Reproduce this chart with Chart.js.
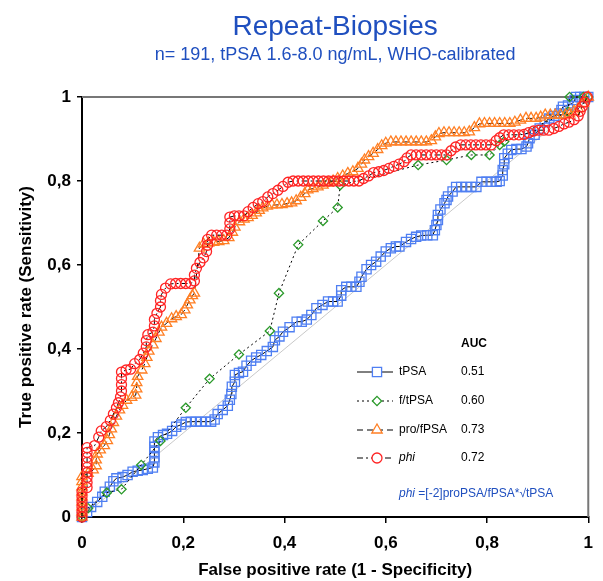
<!DOCTYPE html>
<html>
<head>
<meta charset="utf-8">
<title>Repeat-Biopsies</title>
<script src="https://cdn.jsdelivr.net/npm/chart.js@4.4.0/dist/chart.umd.min.js"></script>
<style>
  body { margin: 0; background: #fff; }
  #wrap { width: 603px; height: 581px; }
</style>
</head>
<body>
<div id="wrap"><canvas id="rocChart" width="603" height="581"></canvas></div>
<script>
// ROC points: [1 - specificity, sensitivity]
const tpsaRoc = [
  [0,0],[0.01,0.012],[0.018,0.024],[0.03,0.036],[0.04,0.048],[0.045,0.06],[0.055,0.072],[0.062,0.085],
  [0.068,0.092],[0.08,0.095],[0.09,0.1],[0.1,0.108],[0.11,0.11],[0.12,0.112],[0.13,0.115],[0.14,0.118],
  [0.143,0.13],[0.143,0.142],[0.143,0.155],[0.143,0.167],[0.143,0.18],[0.15,0.19],[0.16,0.195],[0.168,0.198],
  [0.178,0.205],[0.186,0.215],[0.196,0.22],[0.205,0.226],[0.215,0.227],[0.225,0.227],[0.235,0.227],[0.245,0.227],
  [0.255,0.227],[0.262,0.232],[0.268,0.245],[0.278,0.255],[0.288,0.265],[0.292,0.279],[0.295,0.293],[0.296,0.31],
  [0.302,0.322],[0.302,0.338],[0.31,0.343],[0.318,0.346],[0.325,0.36],[0.334,0.372],[0.344,0.38],[0.354,0.386],
  [0.365,0.395],[0.377,0.405],[0.381,0.421],[0.39,0.43],[0.397,0.441],[0.41,0.452],[0.424,0.465],[0.434,0.465],
  [0.444,0.47],[0.453,0.481],[0.463,0.497],[0.475,0.505],[0.486,0.513],[0.496,0.513],[0.505,0.513],[0.512,0.527],
  [0.512,0.54],[0.522,0.548],[0.532,0.548],[0.542,0.548],[0.548,0.56],[0.552,0.572],[0.562,0.59],[0.571,0.6],
  [0.581,0.608],[0.59,0.62],[0.6,0.632],[0.61,0.64],[0.62,0.644],[0.627,0.644],[0.64,0.655],[0.65,0.662],
  [0.66,0.667],[0.67,0.67],[0.682,0.671],[0.693,0.671],[0.697,0.683],[0.7,0.695],[0.703,0.707],[0.703,0.719],
  [0.708,0.732],[0.716,0.747],[0.72,0.755],[0.723,0.763],[0.732,0.775],[0.739,0.786],[0.749,0.786],[0.759,0.786],
  [0.769,0.786],[0.779,0.786],[0.789,0.798],[0.799,0.798],[0.809,0.798],[0.819,0.798],[0.825,0.8],[0.831,0.813],
  [0.831,0.826],[0.834,0.84],[0.834,0.854],[0.841,0.865],[0.848,0.874],[0.858,0.876],[0.868,0.876],[0.878,0.882],
  [0.881,0.89],[0.884,0.902],[0.894,0.91],[0.904,0.925],[0.914,0.94],[0.923,0.949],[0.933,0.955],[0.943,0.961],
  [0.947,0.969],[0.95,0.977],[0.96,0.98],[0.969,0.985],[0.973,0.993],[0.976,1],[0.984,1],[0.992,1],[1,1]
];
const ftRoc = [
  [0,0],[0.012,0.021],[0.049,0.058],[0.078,0.066],[0.117,0.124],[0.155,0.181],[0.205,0.26],[0.252,0.329],
  [0.31,0.387],[0.371,0.443],[0.389,0.533],[0.427,0.648],[0.476,0.705],[0.505,0.737],[0.51,0.79],[0.664,0.838],
  [0.72,0.85],[0.769,0.862],[0.805,0.862],[0.825,0.886],[0.834,0.894],[0.96,0.965],[0.963,1],[0.99,1],[1,1]
];
const proRoc = [
  [0,0],[0,0.012],[0,0.024],[0,0.036],[0,0.048],[0,0.06],[0,0.072],[0,0.084],[0,0.096],
  [0.012,0.104],[0.022,0.112],[0.028,0.122],[0.028,0.136],[0.03,0.15],[0.036,0.16],[0.044,0.17],[0.05,0.182],
  [0.054,0.196],[0.058,0.21],[0.062,0.225],[0.068,0.24],[0.074,0.255],[0.08,0.266],[0.088,0.278],[0.098,0.285],
  [0.106,0.29],[0.108,0.305],[0.108,0.32],[0.11,0.335],[0.118,0.35],[0.124,0.365],[0.128,0.38],[0.132,0.395],
  [0.14,0.41],[0.146,0.425],[0.152,0.44],[0.157,0.452],[0.167,0.461],[0.177,0.472],[0.186,0.477],[0.196,0.482],
  [0.203,0.493],[0.208,0.505],[0.213,0.517],[0.218,0.527],[0.222,0.533],[0.232,0.64],[0.24,0.65],[0.25,0.652],
  [0.26,0.654],[0.27,0.656],[0.28,0.658],[0.29,0.665],[0.297,0.678],[0.302,0.69],[0.311,0.703],[0.32,0.709],
  [0.328,0.713],[0.336,0.718],[0.344,0.724],[0.35,0.73],[0.357,0.736],[0.366,0.74],[0.375,0.743],[0.385,0.743],
  [0.395,0.744],[0.405,0.746],[0.414,0.748],[0.423,0.753],[0.432,0.761],[0.44,0.77],[0.446,0.779],[0.456,0.782],
  [0.466,0.786],[0.476,0.79],[0.486,0.795],[0.496,0.8],[0.505,0.806],[0.515,0.812],[0.525,0.818],[0.535,0.822],
  [0.545,0.83],[0.552,0.84],[0.558,0.85],[0.566,0.858],[0.575,0.866],[0.584,0.875],[0.592,0.884],[0.6,0.89],
  [0.61,0.893],[0.62,0.893],[0.63,0.893],[0.64,0.893],[0.65,0.893],[0.66,0.893],[0.67,0.893],[0.68,0.893],
  [0.69,0.896],[0.698,0.905],[0.705,0.913],[0.715,0.915],[0.725,0.915],[0.735,0.915],[0.745,0.915],[0.755,0.915],
  [0.765,0.917],[0.775,0.927],[0.785,0.936],[0.795,0.937],[0.805,0.937],[0.815,0.937],[0.825,0.937],[0.835,0.937],
  [0.845,0.937],[0.855,0.94],[0.866,0.945],[0.877,0.949],[0.887,0.949],[0.897,0.949],[0.906,0.952],[0.915,0.957],
  [0.925,0.957],[0.935,0.957],[0.945,0.957],[0.955,0.957],[0.963,0.96],[0.972,0.966],[0.98,0.972],[0.99,0.985],[1,1]
];
const phiRoc = [
  [0,0],[0,0.012],[0,0.024],[0,0.036],[0,0.048],[0,0.06],
  [0.01,0.07],[0.01,0.082],[0.01,0.094],[0.01,0.106],[0.01,0.118],[0.01,0.13],[0.01,0.142],[0.01,0.154],[0.01,0.165],
  [0.025,0.17],[0.033,0.19],[0.038,0.205],[0.048,0.215],[0.056,0.23],[0.062,0.245],[0.068,0.26],[0.072,0.272],
  [0.076,0.286],[0.078,0.3],[0.078,0.315],[0.078,0.33],[0.078,0.345],[0.087,0.35],[0.096,0.352],[0.104,0.365],
  [0.114,0.375],[0.121,0.39],[0.127,0.405],[0.127,0.42],[0.13,0.434],[0.14,0.44],[0.143,0.455],[0.143,0.47],
  [0.148,0.485],[0.155,0.5],[0.155,0.515],[0.157,0.53],[0.165,0.545],[0.175,0.555],[0.185,0.556],[0.195,0.556],
  [0.205,0.556],[0.215,0.556],[0.222,0.562],[0.222,0.576],[0.226,0.592],[0.233,0.606],[0.24,0.617],[0.246,0.632],
  [0.248,0.647],[0.248,0.661],[0.256,0.671],[0.266,0.671],[0.276,0.671],[0.286,0.671],[0.292,0.686],[0.292,0.7],
  [0.292,0.714],[0.301,0.717],[0.31,0.717],[0.32,0.717],[0.328,0.727],[0.338,0.737],[0.348,0.746],[0.357,0.751],
  [0.367,0.762],[0.377,0.77],[0.387,0.778],[0.397,0.787],[0.407,0.797],[0.417,0.8],[0.427,0.8],[0.437,0.8],
  [0.447,0.8],[0.457,0.8],[0.467,0.8],[0.477,0.8],[0.487,0.8],[0.497,0.8],[0.507,0.8],[0.517,0.8],
  [0.527,0.8],[0.537,0.8],[0.547,0.8],[0.556,0.806],[0.566,0.812],[0.576,0.82],[0.586,0.822],[0.596,0.825],
  [0.606,0.83],[0.616,0.835],[0.626,0.84],[0.636,0.846],[0.642,0.855],[0.65,0.862],[0.66,0.862],[0.67,0.862],
  [0.68,0.862],[0.69,0.862],[0.7,0.862],[0.71,0.862],[0.72,0.862],[0.729,0.872],[0.738,0.881],[0.748,0.886],
  [0.758,0.886],[0.768,0.886],[0.778,0.886],[0.788,0.886],[0.798,0.886],[0.808,0.886],[0.818,0.896],[0.825,0.903],
  [0.833,0.91],[0.843,0.91],[0.853,0.91],[0.863,0.91],[0.873,0.911],[0.882,0.915],[0.892,0.919],[0.902,0.921],
  [0.912,0.921],[0.922,0.921],[0.932,0.925],[0.942,0.93],[0.952,0.936],[0.962,0.94],[0.972,0.946],[0.98,0.955],
  [0.984,0.966],[0.988,0.977],[0.993,0.988],[0.998,1]
];
const refLine = [[0,0],[1,1]];

const seriesNames = ['tPSA', 'f/tPSA', 'pro/fPSA', 'phi'];
const aucValues = ['0.51', '0.60', '0.73', '0.72'];
const rocSets = [tpsaRoc, ftRoc, proRoc, phiRoc];

const titleText = 'Repeat-Biopsies';
const subtitleText = 'n= 191, tPSA 1.6-8.0 ng/mL, WHO-calibrated';

// styles
const markerStyles = ['rect', 'rectRot', 'triangle', 'circle'];
const markerColors = ['#4f7ff2', '#2a9a2a', '#ff7f24', '#ff2424'];
const markerSizes = [6.5, 4.6, 6, 5];
const lineDashes = [[], [2, 3], [6, 4], [6, 3, 2, 3]];
const blueText = '#1f4fbf';
const FONT = '"Liberation Sans", Arial, sans-serif';

Chart.defaults.font.family = FONT;
Chart.defaults.color = '#000';

function toPoints(pairs) {
  return pairs.map(p => ({ x: p[0], y: p[1] }));
}

function tickLabel(v) {
  const r = Math.round(v * 10) / 10;
  return String(r).replace('.', ',');
}

const datasets = rocSets.map((set, i) => ({
  label: seriesNames[i],
  data: toPoints(set),
  showLine: true,
  borderColor: '#000',
  borderWidth: 1,
  borderDash: lineDashes[i],
  pointStyle: markerStyles[i],
  pointRadius: markerSizes[i],
  pointHoverRadius: markerSizes[i],
  pointBorderColor: markerColors[i],
  pointBackgroundColor: 'rgba(0,0,0,0)',
  pointBorderWidth: 1.3,
  clip: false,
  order: 3 - i
}));

datasets.push({
  label: 'reference',
  data: toPoints(refLine),
  showLine: true,
  borderColor: '#c8c8c8',
  borderWidth: 1,
  pointRadius: 0,
  order: 10
});

// draw a legend marker
function drawMarker(ctx, style, x, y, r) {
  ctx.beginPath();
  if (style === 'rect') {
    const s = r * Math.SQRT1_2;
    ctx.rect(x - s, y - s, 2 * s, 2 * s);
  } else if (style === 'rectRot') {
    ctx.moveTo(x, y - r); ctx.lineTo(x + r, y); ctx.lineTo(x, y + r); ctx.lineTo(x - r, y); ctx.closePath();
  } else if (style === 'triangle') {
    ctx.moveTo(x, y - r);
    ctx.lineTo(x + r * 0.866, y + r * 0.5);
    ctx.lineTo(x - r * 0.866, y + r * 0.5);
    ctx.closePath();
  } else {
    ctx.arc(x, y, r, 0, Math.PI * 2);
  }
  ctx.fill();
  ctx.stroke();
}

const chartDecor = {
  id: 'chartDecor',
  beforeDatasetsDraw(chart) {
    const { ctx, chartArea: a } = chart;
    ctx.save();
    ctx.strokeStyle = '#777';
    ctx.lineWidth = 2;
    ctx.beginPath();
    ctx.moveTo(a.left, a.top);
    ctx.lineTo(a.right, a.top);
    ctx.lineTo(a.right, a.bottom);
    ctx.stroke();
    ctx.restore();
  },
  afterDraw(chart) {
    const { ctx, chartArea: a } = chart;
    const cx = (a.left + a.right) / 2;
    ctx.save();

    // titles
    ctx.fillStyle = blueText;
    ctx.textAlign = 'center';
    ctx.textBaseline = 'alphabetic';
    ctx.font = '28px ' + FONT;
    ctx.fillText(titleText, cx, 35);
    ctx.font = '18px ' + FONT;
    ctx.fillText(subtitleText, cx, 60);

    // legend with AUC column
    const lineX0 = a.left + 275, lineX1 = a.left + 311, markX = a.left + 295;
    const labelX = a.left + 317, valueX = a.left + 379;
    const rowY = [275, 304, 333, 361].map(v => a.top + v);
    ctx.textAlign = 'left';
    ctx.textBaseline = 'middle';
    ctx.fillStyle = '#000';
    ctx.font = 'bold 12px ' + FONT;
    ctx.fillText('AUC', valueX, a.top + 247);

    seriesNames.forEach((name, i) => {
      const y = rowY[i];
      ctx.strokeStyle = '#000';
      ctx.lineWidth = 1;
      ctx.setLineDash(lineDashes[i]);
      ctx.beginPath();
      ctx.moveTo(lineX0, y);
      ctx.lineTo(lineX1, y);
      ctx.stroke();
      ctx.setLineDash([]);
      ctx.strokeStyle = markerColors[i];
      ctx.fillStyle = '#fff';
      ctx.lineWidth = 1.3;
      drawMarker(ctx, markerStyles[i], markX, y, markerSizes[i]);
      ctx.fillStyle = '#000';
      ctx.font = (name === 'phi' ? 'italic ' : '') + '12px ' + FONT;
      ctx.fillText(name, labelX, y);
      ctx.font = '12px ' + FONT;
      ctx.fillText(aucValues[i], valueX, y);
    });

    // formula note
    ctx.fillStyle = blueText;
    const fy = a.top + 397;
    ctx.font = 'italic 12px ' + FONT;
    ctx.fillText('phi', labelX, fy);
    const w = ctx.measureText('phi').width;
    ctx.font = '12px ' + FONT;
    ctx.fillText(' =[-2]proPSA/fPSA*\u221AtPSA', labelX + w, fy);
    ctx.restore();
  }
};

const ctx = document.getElementById('rocChart').getContext('2d');
const rocChart = new Chart(ctx, {
  type: 'scatter',
  data: { datasets: datasets },
  options: {
    responsive: false,
    animation: false,
    events: [],
    layout: { padding: { top: 97, right: 14, left: 0, bottom: 0 } },
    plugins: {
      legend: { display: false },
      tooltip: { enabled: false }
    },
    scales: {
      x: {
        type: 'linear',
        min: 0,
        max: 1,
        afterFit: scale => { scale.height = 64; },
        grid: { drawOnChartArea: false, drawTicks: true, tickLength: 6, color: '#000', lineWidth: 1.5 },
        border: { display: true, color: '#000', width: 2 },
        ticks: {
          stepSize: 0.2,
          padding: 10,
          maxRotation: 0,
          autoSkip: false,
          font: { size: 17, weight: 'bold' },
          callback: tickLabel
        },
        title: {
          display: true,
          text: 'False positive rate (1 - Specificity)',
          font: { size: 17, weight: 'bold' },
          padding: { top: 0, bottom: 0 }
        }
      },
      y: {
        type: 'linear',
        min: 0,
        max: 1,
        afterFit: scale => { scale.width = 82; },
        grid: { drawOnChartArea: false, drawTicks: true, tickLength: 5, color: '#000', lineWidth: 1.5 },
        border: { display: true, color: '#000', width: 2 },
        ticks: {
          stepSize: 0.2,
          padding: 6,
          autoSkip: false,
          font: { size: 17, weight: 'bold' },
          callback: tickLabel
        },
        title: {
          display: true,
          text: 'True positive rate (Sensitivity)',
          font: { size: 17, weight: 'bold' },
          padding: { top: 16, bottom: 0 }
        }
      }
    }
  },
  plugins: [chartDecor]
});
</script>
</body>
</html>
